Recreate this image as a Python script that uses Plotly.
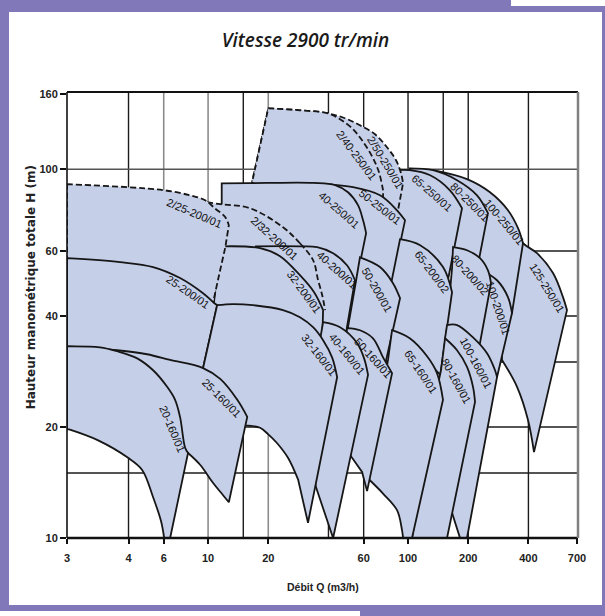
import numpy as np
import plotly.graph_objects as go

# ---------------- axes ----------------
X_RANGE = [1.97, 708]
Y_RANGE = [10, 162]
X_TICK_VALS = [1.97, 4, 6, 10, 20, 60, 100, 200, 400, 700]
X_TICK_TEXT = ["3", "4", "6", "10", "20", "60", "100", "200", "400", "700"]
Y_TICK_VALS = [10, 20, 40, 60, 100, 160]
X_GRID_DARK = [4, 15, 40, 60, 100, 150, 200, 400]
X_GRID_GREY = [6, 10, 20]
Y_GRID_DARK = [15, 20, 30, 40, 60]
Y_GRID_GREY = [100]

# ---------------- pump ranges (Q m3/h, H m) ----------------
# each outline = list of smooth runs; runs are joined by straight edges
P_125_250 = [[(305.5, 72.7), (375.8, 63.0), (441.6, 59.2), (530.9, 52.3), (595.7, 45.0), (623.7, 41.5)],
             [(426.6, 17.1), (398.1, 20.9), (350.8, 25.7), (295.1, 30.4)],
             [(288, 44.2)]]
P_100_250 = [[(133.4, 99.4), (197.2, 94.0), (257, 86.6), (316, 77.4), (354.8, 69.2), (375.8, 63.0)],
             [(331, 40.7)],
             [(316, 39.5), (257, 47.0), (223.9, 50.0)]]
P_80_250 = [[(102, 100.6), (133.4, 99.4), (175.8, 93.4), (221.3, 85.0), (251, 76.0)],
            [(213.8, 48.5)],
            [(182, 58.5), (166, 60.3)]]
P_65_250 = [[(86.1, 99.4), (102, 99.4), (129, 96.3), (162, 87.7), (186.2, 78.4)],
            [(153.1, 45.6)],
            [(129, 54.9), (93.3, 61.1)],
            [(85.1, 76.5)]]
P2_50_250 = [[(20.0, 146.3), (28.8, 144.5), (39.4, 141.9), (48.4, 137.5), (57.5, 131.6), (68.4, 124.4),
              (78.5, 114.7), (87.1, 105.8), (92.3, 97.5), (94.4, 91.6)],
             [(89.1, 77.4)],
             [(89.1, 75.5), (72.4, 81.4), (53.1, 86.6), (33.5, 88.8), (18.2, 88.8)],
             [(16.6, 92.2)]]
P2_40_250 = [[(20.0, 146.3), (28.8, 144.5), (39.4, 141.9), (45.7, 136.6), (52.5, 129.2), (58.9, 119.8),
              (66.1, 108.4), (71.6, 98.1), (75.0, 87.7)],
             [(75.0, 82.4)],
             [(64.6, 84.0), (36.3, 87.7), (18.2, 88.8)],
             [(16.6, 92.2)]]
P_50_250 = [[(33.5, 91.6), (53.1, 89.4), (72.4, 85.0), (88.1, 77.4), (96.6, 72.7)],
            [(83.2, 49.4)],
            [(83.2, 47.0), (70.8, 52.6), (58.9, 54.9)]]
P_40_250 = [[(11.7, 91.6), (19.7, 91.8), (33.5, 91.8), (43.2, 90.6), (50.1, 86.6), (56.2, 79.9),
             (59.6, 72.7), (61.7, 67.1)],
            [(55.0, 49.4)],
            [(40.7, 56.7), (28.8, 59.6), (16.2, 59.6), (11.7, 59.6)]]
P_100_200 = [[(223.9, 53.9), (278.6, 50.0), (316, 45.0), (331, 40.7)],
             [(278.6, 27.3)],
             [(234, 31.3), (219, 33.3)]]
P_80_200 = [[(167.9, 61.5), (197.2, 60.3), (229, 57.4), (251, 53.2), (260, 49.1)],
            [(226.5, 32.7)],
            [(182, 34.4), (154.9, 35.5)],
            [(162, 46.4), (166, 53.9)]]
P_65_200 = [[(91.2, 64.6), (115, 62.2), (149.6, 54.3), (166, 46.4)],
            [(145, 27.7)],
            [(115, 31.5), (83.2, 35.5)],
            [(82.2, 48.8)]]
P_50_200 = [[(57.5, 57.7), (72.4, 54.3), (84.1, 49.1), (91.2, 44.7)],
            [(76.7, 29.4)],
            [(64.6, 33.3), (51.3, 35.5)],
            [(50.1, 37.3)],
            [(55.0, 50.0)]]
P2_32_200 = [[(9.89, 81.4), (11.5, 80.4), (16.2, 78.4), (23.7, 69.6), (28.8, 63.0), (33.5, 56.7),
              (35.5, 50.0), (37.2, 45.6), (38.5, 41.5)],
             [(38.0, 36.6)],
             [(32.4, 44.2), (25.7, 51.6), (18.2, 58.5), (12.6, 59.6)],
             [(10.8, 68.3)]]
P_40_200 = [[(17.2, 61.8), (28.8, 61.8), (35.1, 61.5), (42.2, 59.2), (49.5, 54.9), (54.3, 50.0)],
            [(49.5, 37.3)],
            [(48.4, 33.3)],
            [(40.7, 35.5), (28.8, 37.8)],
            [(24.3, 53.9)]]
EXT_2_32_Q = [28.8, 33.5, 35.5, 37.2, 38.5]
EXT_2_32_H = [63.0, 56.7, 50.0, 45.6, 41.5]
P_32_200 = [[(11.9, 61.8), (18.2, 61.1), (22.9, 58.1), (28.8, 51.6), (33.9, 46.4), (37.6, 41.5)],
            [(37.2, 33.3)],
            [(28.8, 38.5), (23.7, 40.2), (16.8, 41.5), (10.6, 41.5)],
            [(11.0, 50.0)]]
P2_25_200 = [[(1.97, 91.1), (3.98, 89.4), (6.03, 87.7), (8.13, 85.0), (9.66, 82.4), (10.8, 78.4),
              (12.2, 74.1), (12.7, 70.5)],
             [(12.2, 61.5), (11.2, 50.0), (10.6, 43.6)],
             [(10.2, 42.5), (7.24, 48.8), (3.63, 54.6), (1.97, 55.4)]]
P_25_200 = [[(1.97, 57.4), (3.63, 56.0), (5.31, 54.3), (7.24, 50.7), (9.44, 46.1), (10.6, 43.6)],
            [(11.1, 42.8)],
            [(9.44, 28.9)],
            [(5.13, 30.0), (1.97, 31.9)]]
P_100_160 = [[(156.7, 37.8), (175.8, 37.8), (211.3, 35.0), (248.3, 31.7), (272.3, 28.5), (278.6, 27.3)],
             [(197.2, 10)],
             [(182, 10)],
             [(166, 11.7)],
             [(166, 30.4)],
             [(153.1, 34.8)]]
P_80_160 = [[(153.1, 34.8), (175.8, 32.3), (197.2, 29.1), (211.3, 25.7), (216.3, 23.4)],
            [(156.7, 10)],
            [(104.7, 10)],
            [(129, 20.9)],
            [(146.2, 28.5)]]
P_65_160 = [[(83.2, 36.6), (102, 34.8), (124.5, 31.1), (139.6, 28.0), (149.6, 23.7)],
            [(104.7, 10)],
            [(94.4, 10), (93.3, 10.5), (88.1, 11.9), (75.0, 13.2), (63.1, 14.5)],
            [(68.4, 18.4)],
            [(79.4, 30.4)]]
P_50_160 = [[(49.5, 37.1), (57.5, 36.6), (66.8, 34.8), (75.0, 30.9), (83.2, 28.0)],
            [(62.4, 13.4)],
            [(58.9, 15.1), (51.3, 16.8)],
            [(45.7, 20.9)],
            [(48.4, 30.4)]]
P_40_160 = [[(37.6, 38.5), (45.7, 37.3), (55.6, 33.8), (60.3, 30.7), (63.1, 27.7)],
            [(42.2, 10)],
            [(34.7, 13.7)],
            [(28.8, 20.9)],
            [(36.3, 34.4)]]
P_32_160 = [[(11.1, 42.8), (13.3, 43.1), (16.8, 42.8), (23.7, 41.5), (28.8, 39.7), (33.5, 37.3),
             (37.6, 34.4), (41.7, 30.9), (44.2, 27.3)],
            [(31.6, 11.0)],
            [(28.2, 14.4), (25.1, 16.5), (22.1, 18.1), (20.0, 19.1), (18.2, 19.9), (15.3, 20.2)],
            [(12.2, 24.4)],
            [(9.44, 28.9)]]
P_25_160 = [[(1.97, 33.1), (3.51, 32.3), (4.95, 31.5), (6.46, 30.4), (9.44, 28.9), (11.5, 27.0),
             (14.0, 23.7), (15.7, 21.3)],
            [(12.7, 12.5), (11.7, 13.2), (10.6, 14.1), (9.12, 15.8), (7.94, 17.0)],
            [(5.13, 20.9), (1.97, 22.9)]]
P_20_160 = [[(1.97, 33.1), (2.88, 32.9), (3.51, 32.1), (4.42, 30.7), (5.31, 28.5), (6.24, 25.7),
             (6.84, 23.7), (7.24, 21.3), (7.67, 17.6), (7.94, 17.0)],
            [(6.46, 10)],
            [(6.03, 10), (5.82, 11.1), (5.31, 12.9), (4.68, 15.3), (3.98, 16.5), (2.82, 18.4), (2.02, 19.7)],
            [(1.97, 19.7)]]

# drawing order: back to front
PUMP_NAMES = ["125-250/01", "100-250/01", "80-250/01", "65-250/01", "2/50-250/01", "2/40-250/01",
              "50-250/01", "40-250/01", "100-200/01", "80-200/02", "65-200/02", "50-200/01",
              "2/32-200/01", "40-200/01", "32-200/01", "2/25-200/01", "25-200/01",
              "100-160/01", "80-160/01", "65-160/01", "50-160/01", "40-160/01", "32-160/01",
              "25-160/01", "20-160/01"]
PUMP_OUTLINES = [P_125_250, P_100_250, P_80_250, P_65_250, P2_50_250, P2_40_250,
                 P_50_250, P_40_250, P_100_200, P_80_200, P_65_200, P_50_200,
                 P2_32_200, P_40_200, P_32_200, P2_25_200, P_25_200,
                 P_100_160, P_80_160, P_65_160, P_50_160, P_40_160, P_32_160,
                 P_25_160, P_20_160]

# ---------------- labels ----------------
LABEL_TEXT = ["2/25-200/01", "2/32-200/01", "2/40-250/01", "2/50-250/01", "40-250/01", "50-250/01",
              "65-250/01", "80-250/01", "100-250/01", "125-250/01", "25-200/01", "32-200/01",
              "40-200/01", "50-200/01", "65-200/02", "80-200/02", "100-200/01", "20-160/01",
              "25-160/01", "32-160/01", "40-160/01", "50-160/01", "65-160/01", "80-160/01", "100-160/01"]
LABEL_Q = [8.51, 21.4, 55.0, 76.7, 45.2, 72.4, 131.8, 204, 302, 495.5, 7.94, 30.2,
           44.2, 70.0, 131.8, 204, 281.8, 6.61, 11.7, 35.9, 49.5, 66.8, 116.1, 173.8, 218.8]
LABEL_H = [76.0, 65.0, 109.1, 104.5, 77.4, 78.9, 86.1, 81.4, 71.8, 47.6, 46.4, 46.4,
           53.2, 47.0, 52.6, 51.6, 42.0, 19.7, 24.0, 31.3, 31.5, 30.7, 28.2, 26.6, 29.8]
LABEL_ANGLE = [23, 42, 53, 59, 41, 38, 41, 45, 50, 58, 35, 54,
               42, 60, 53, 48, 72, 67, 45, 52, 51, 48, 56, 61, 62]

FILL = "rgb(198,207,232)"
EDGE = "#161616"
PURPLE = "#8078B8"
SANS = "Liberation Sans, Arial, Helvetica, sans-serif"
WIDE = "DejaVu Sans, Verdana, sans-serif"


def outline(runs):
    pts = []
    for run in runs:
        pts.append(run[0])
        pts.extend(run)
        pts.append(run[-1])
    pts.append(runs[0][0])
    return [p[0] for p in pts], [p[1] for p in pts]


fig = go.Figure()


def add_line(q, h, color, width, dash="solid", shape="linear"):
    fig.add_trace(go.Scatter(x=q, y=h, mode="lines", hoverinfo="skip", showlegend=False,
                             line=dict(color=color, width=width, dash=dash, shape=shape,
                                       simplify=False)))


for q in X_GRID_DARK:
    add_line([q, q], Y_RANGE, "#1c1c1c", 1.4)
for q in X_GRID_GREY:
    add_line([q, q], Y_RANGE, "#8c8c8c", 1.6)
for h in Y_GRID_DARK:
    add_line(X_RANGE, [h, h], "#1c1c1c", 1.4)
for h in Y_GRID_GREY:
    add_line(X_RANGE, [h, h], "#555555", 1.5)

for name, runs in zip(PUMP_NAMES, PUMP_OUTLINES):
    q, h = outline(runs)
    dashed = name.startswith("2/")
    fig.add_trace(go.Scatter(
        x=q, y=h, mode="lines", fill="toself", fillcolor=FILL, name=name,
        hoverinfo="skip", showlegend=False,
        line=dict(color=EDGE, width=1.8, shape="spline", smoothing=1, simplify=False,
                  dash="6px,3px" if dashed else "solid")))
    if name == "40-200/01":
        add_line(EXT_2_32_Q, EXT_2_32_H, EDGE, 1.8, dash="6px,3px", shape="spline")

annotations = []
for t, q, h, a in zip(LABEL_TEXT, LABEL_Q, LABEL_H, LABEL_ANGLE):
    annotations.append(dict(x=np.log10(q), y=np.log10(h), xref="x", yref="y", text=t,
                            showarrow=False, textangle=a, xanchor="center", yanchor="middle",
                            font=dict(family=SANS, size=11, color="#111111")))

annotations.append(dict(text="Hauteur manométrique totale H (m)", x=-0.0715, y=0.563,
                        xref="paper", yref="paper", showarrow=False, textangle=-90,
                        xanchor="center", yanchor="middle",
                        font=dict(family=WIDE, size=12, color="#222222", weight="bold")))
annotations.append(dict(text="Débit Q (m3/h)", x=0.501, y=-0.1099, xref="paper", yref="paper",
                        showarrow=False, xanchor="center", yanchor="middle",
                        font=dict(family=SANS, size=10.5, color="#222222", weight="bold")))


def xp(px):
    return (px - 67) / 511.0


def yp(py):
    return (538 - py) / 446.0


shapes = []
# purple frame
for (a, b, c, d) in [(0, 511, 0, 12), (511, 605, 6, 12), (0, 9, 0, 611), (602, 605, 6, 606),
                     (0, 605, 605, 611), (360, 605, 605, 616)]:
    shapes.append(dict(type="rect", xref="paper", yref="paper", x0=xp(a), x1=xp(b),
                       y0=yp(c), y1=yp(d), fillcolor=PURPLE, line=dict(width=0), layer="above"))
# plot border
shapes += [
    dict(type="line", xref="paper", yref="paper", x0=0, x1=1, y0=1, y1=1,
         line=dict(color="#111111", width=2), layer="above"),
    dict(type="line", xref="paper", yref="paper", x0=0, x1=1, y0=0, y1=0,
         line=dict(color="#111111", width=2.5), layer="above"),
    dict(type="line", xref="paper", yref="paper", x0=0, x1=0, y0=0, y1=1,
         line=dict(color="#111111", width=1.6), layer="above"),
    dict(type="line", xref="paper", yref="paper", x0=1, x1=1, y0=0, y1=1,
         line=dict(color="#808080", width=2.5), layer="above"),
]

TICK_FONT = dict(family=SANS, size=11, color="#222222", weight="bold")

fig.update_layout(
    width=605, height=616, autosize=False,
    margin=dict(l=67, r=27, t=92, b=78, pad=0),
    paper_bgcolor="white", plot_bgcolor="white", showlegend=False,
    title=dict(text="Vitesse 2900 tr/min", x=0.505, y=0.935, xref="container", yref="container",
               xanchor="center", yanchor="middle",
               font=dict(family="Open Sans, Liberation Sans, sans-serif", size=19,
                         color="#1a1a1a", style="italic", weight=600)),
    xaxis=dict(type="log", range=[np.log10(X_RANGE[0]), np.log10(X_RANGE[1])],
               tickvals=X_TICK_VALS, ticktext=X_TICK_TEXT, ticks="outside", ticklen=5,
               tickwidth=1.5, tickcolor="#111111", showgrid=False, zeroline=False,
               showline=False, tickfont=TICK_FONT, ticklabelstandoff=5, fixedrange=True),
    yaxis=dict(type="log", range=[np.log10(Y_RANGE[0]), np.log10(Y_RANGE[1])],
               tickvals=Y_TICK_VALS, ticktext=[str(v) for v in Y_TICK_VALS], ticks="outside",
               ticklen=6, tickwidth=1.5, tickcolor="#111111", showgrid=False, zeroline=False,
               showline=False, tickfont=TICK_FONT, fixedrange=True),
    annotations=annotations,
    shapes=shapes,
)

fig.write_html("out.html", config={"displayModeBar": False},
               post_script="document.body.style.margin='0px';")
